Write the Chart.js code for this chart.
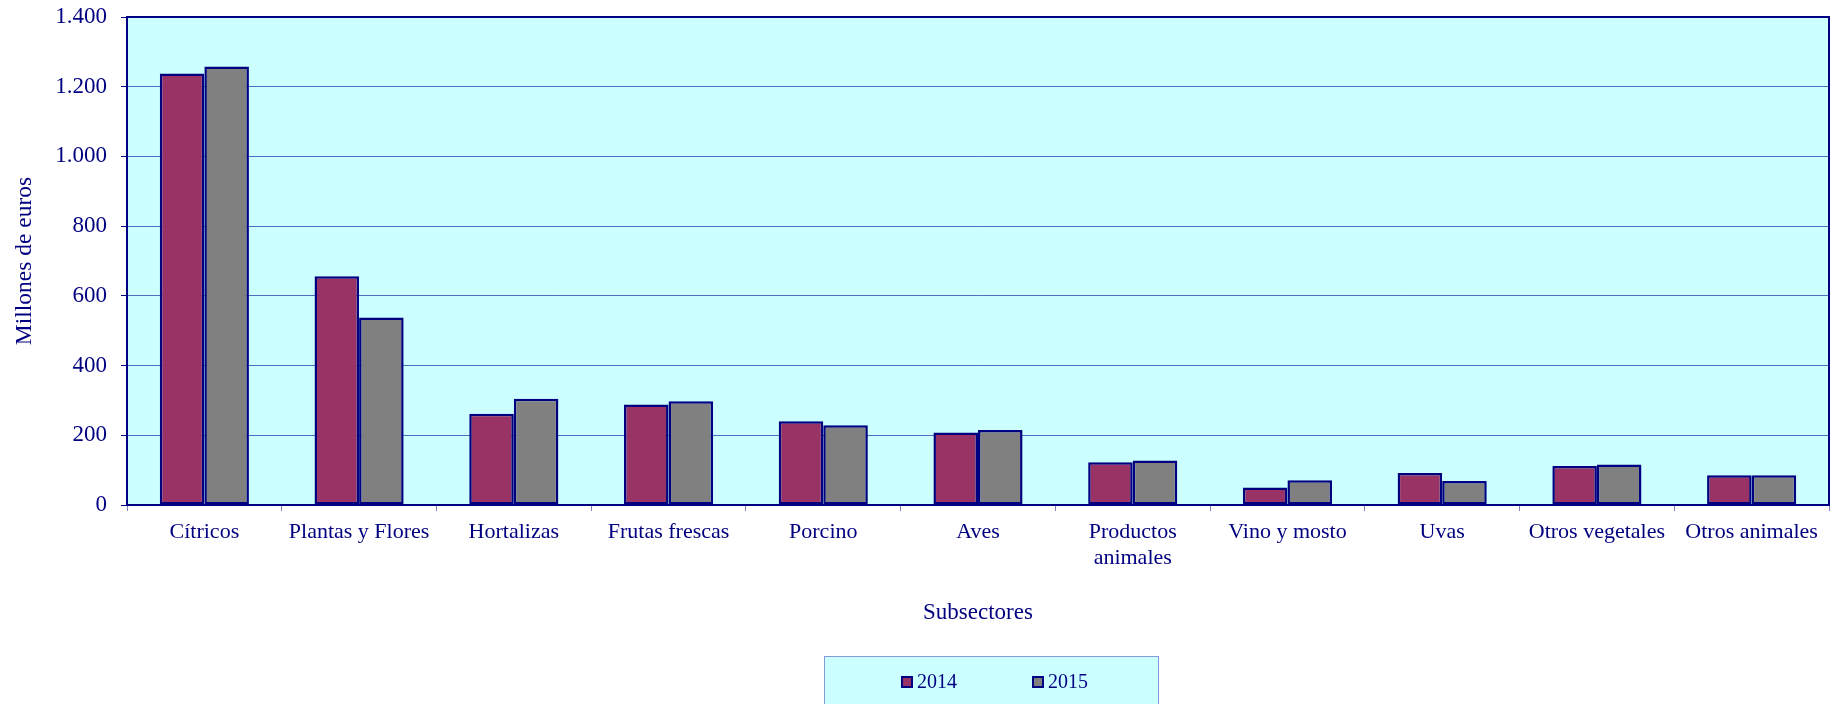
<!DOCTYPE html>
<html>
<head>
<meta charset="utf-8">
<script src="https://cdn.jsdelivr.net/npm/chart.js@4/dist/chart.umd.min.js"></script>
<style>
  html, body { margin: 0; padding: 0; background: #ffffff; }
  #wrap { width: 1838px; height: 704px; position: relative; }
</style>
</head>
<body>
<div id="wrap"><canvas id="c" width="1838" height="704"></canvas></div>
<script>
const categories = [
  'Cítricos', 'Plantas y Flores', 'Hortalizas', 'Frutas frescas', 'Porcino', 'Aves',
  ['Productos', 'animales'], 'Vino y mosto', 'Uvas', 'Otros vegetales', 'Otros animales'
];
const series2014 = [1238, 656, 262, 288, 240, 208, 123, 50, 92, 112, 85];
const series2015 = [1258, 538, 305, 298, 229, 215, 128, 71, 69, 116, 85];
const seriesLabels = ['2014', '2015'];
const yTicks = [0, 200, 400, 600, 800, 1000, 1200, 1400];
const yTitle = 'Millones de euros';
const xTitle = 'Subsectores';

const NAVY = '#000080';
const FONT = "'Liberation Serif', 'Times New Roman', serif";

const plotBg = {
  id: 'plotBg',
  beforeDraw(chart) {
    const { ctx, chartArea: a } = chart;
    ctx.save();
    ctx.fillStyle = '#CCFFFF';
    ctx.fillRect(a.left, a.top, a.right - a.left, a.bottom - a.top);
    ctx.restore();
  },
  afterDatasetsDraw(chart) {
    const { ctx, chartArea: a } = chart;
    ctx.save();
    ctx.strokeStyle = NAVY;
    ctx.lineWidth = 2;
    ctx.beginPath();
    ctx.moveTo(a.left, a.top);
    ctx.lineTo(a.right, a.top);
    ctx.lineTo(a.right, a.bottom);
    ctx.stroke();
    ctx.restore();
  }
};

const boxLegend = {
  id: 'boxLegend',
  afterDraw(chart) {
    const { ctx } = chart;
    ctx.save();
    ctx.fillStyle = '#CCFFFF';
    ctx.fillRect(824, 656, 335, 60);
    ctx.strokeStyle = '#8299dc';
    ctx.lineWidth = 1;
    ctx.strokeRect(824.5, 656.5, 334, 60);
    const xs = [902, 1033];
    const cy = 682;
    ctx.font = '20px ' + FONT;
    ctx.textBaseline = 'middle';
    ctx.textAlign = 'left';
    chart.data.datasets.forEach((ds, i) => {
      ctx.fillStyle = ds.backgroundColor;
      ctx.fillRect(xs[i], cy - 5, 10, 10);
      ctx.strokeStyle = NAVY;
      ctx.lineWidth = 2;
      ctx.strokeRect(xs[i], cy - 5, 10, 10);
      ctx.fillStyle = NAVY;
      ctx.fillText(ds.label, xs[i] + 15, cy + 1);
    });
    ctx.restore();
  }
};

new Chart(document.getElementById('c'), {
  type: 'bar',
  data: {
    labels: categories,
    datasets: [
      { label: seriesLabels[0], data: series2014, backgroundColor: '#993366', borderColor: NAVY, borderWidth: 2.5, borderSkipped: false },
      { label: seriesLabels[1], data: series2015, backgroundColor: '#808080', borderColor: NAVY, borderWidth: 2.5, borderSkipped: false }
    ]
  },
  options: {
    responsive: false,
    animation: false,
    layout: { padding: { top: 17, right: 9, bottom: 69, left: 0 } },
    datasets: { bar: { categoryPercentage: 0.576, barPercentage: 1.0 } },
    plugins: {
      legend: { display: false },
      tooltip: { enabled: false }
    },
    scales: {
      x: {
        grid: { offset: true, drawOnChartArea: false, drawTicks: true, tickLength: 6, color: '#8080c0', lineWidth: 1 },
        border: { display: true, color: NAVY, width: 2 },
        ticks: { color: NAVY, font: { family: FONT, size: 22 }, padding: 8, maxRotation: 0, autoSkip: false },
        title: { display: true, text: xTitle, color: NAVY, font: { family: FONT, size: 23 }, padding: { top: 0, bottom: 8 } },
        afterFit(scale) { scale.height = 130; }
      },
      y: {
        min: 0, max: 1400,
        afterBuildTicks(scale) { scale.ticks = yTicks.map(v => ({ value: v })); },
        grid: { color: 'rgba(40,60,170,0.75)', lineWidth: 1, borderDash: [1, 1], tickLength: 6, tickColor: NAVY, tickBorderDash: [] },
        border: { display: true, color: NAVY, width: 2 },
        ticks: {
          color: NAVY, font: { family: FONT, size: 23 }, padding: 14,
          callback: v => String(v).replace(/\B(?=(\d{3})+(?!\d))/g, '.')
        },
        title: { display: true, text: yTitle, color: NAVY, font: { family: FONT, size: 23.5 }, padding: { top: 11, bottom: 0 } },
        afterFit(scale) { scale.width = 127; scale.paddingTop = 0; scale.paddingBottom = 0; }
      }
    }
  },
  plugins: [plotBg, boxLegend]
});
</script>
</body>
</html>
